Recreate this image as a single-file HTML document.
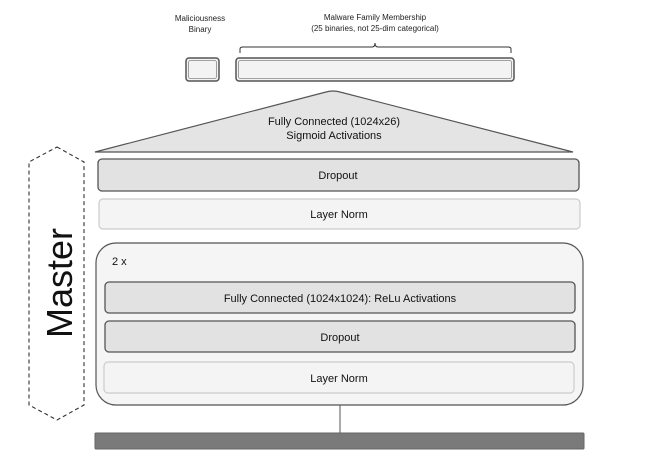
<!DOCTYPE html>
<html><head><meta charset="utf-8"><style>
html,body{margin:0;padding:0;background:#fff;}
body{width:657px;height:458px;overflow:hidden;}
</style></head><body>
<svg width="657" height="458" viewBox="0 0 657 458" xmlns="http://www.w3.org/2000/svg" font-family="Liberation Sans, sans-serif">
<text x="200" y="21" font-size="8" text-anchor="middle" fill="#222">Maliciousness</text>
<text x="200" y="32" font-size="8" text-anchor="middle" fill="#222">Binary</text>
<text x="375" y="20" font-size="8" text-anchor="middle" fill="#222">Malware Family Membership</text>
<text x="375" y="31" font-size="8" text-anchor="middle" fill="#222">(25 binaries, not 25-dim categorical)</text>
<path d="M240 53 V49 Q240 47 243 47 H372 Q375 47 375 43 Q375 47 378 47 H508 Q511 47 511 49 V53" fill="none" stroke="#333" stroke-width="1"/>
<rect x="186" y="58" width="33" height="23" rx="3" fill="#f3f3f3" stroke="#555" stroke-width="1.5"/>
<rect x="188.5" y="60.5" width="28" height="18" rx="2" fill="none" stroke="#888" stroke-width="0.8"/>
<rect x="236" y="58" width="278" height="23" rx="3" fill="#f3f3f3" stroke="#555" stroke-width="1.5"/>
<rect x="238.5" y="60.5" width="273" height="18" rx="2" fill="none" stroke="#888" stroke-width="0.8"/>
<path d="M95 152 L326 92 Q333 90 340 92 L573 152 Z" fill="#e4e4e4" stroke="#555" stroke-width="1.2"/>
<text x="334" y="125" font-size="11" text-anchor="middle" fill="#111">Fully Connected (1024x26)</text>
<text x="334" y="139" font-size="11" text-anchor="middle" fill="#111">Sigmoid Activations</text>
<rect x="98" y="159" width="481" height="32" rx="4" fill="#e2e2e2" stroke="#555" stroke-width="1.3"/>
<text x="338" y="179" font-size="11" text-anchor="middle" fill="#111">Dropout</text>
<rect x="99" y="199" width="481" height="30" rx="4" fill="#f4f4f4" stroke="#ccc" stroke-width="1.2"/>
<text x="339" y="218" font-size="11" text-anchor="middle" fill="#111">Layer Norm</text>
<path d="M57 147 L84 162 V405 L57 420 L29 405 V162 Z" fill="none" stroke="#333" stroke-width="1.1" stroke-dasharray="4,3"/>
<text x="0" y="0" font-size="36" text-anchor="middle" fill="#111" transform="translate(72 283) rotate(-90)">Master</text>
<rect x="96" y="243" width="487" height="162" rx="20" fill="#f5f5f5" stroke="#555" stroke-width="1.2"/>
<text x="112" y="265" font-size="11" fill="#111">2 x</text>
<rect x="105" y="282" width="470" height="31" rx="4" fill="#e2e2e2" stroke="#555" stroke-width="1.3"/>
<text x="340" y="302" font-size="11" text-anchor="middle" fill="#111">Fully Connected (1024x1024): ReLu Activations</text>
<rect x="105" y="321" width="470" height="31" rx="4" fill="#e2e2e2" stroke="#555" stroke-width="1.3"/>
<text x="340" y="341" font-size="11" text-anchor="middle" fill="#111">Dropout</text>
<rect x="104" y="362" width="470" height="31" rx="4" fill="#f4f4f4" stroke="#ccc" stroke-width="1.2"/>
<text x="339" y="382" font-size="11" text-anchor="middle" fill="#111">Layer Norm</text>
<line x1="340" y1="405" x2="340" y2="433" stroke="#555" stroke-width="1"/>
<rect x="95" y="433" width="489" height="16" rx="1" fill="#7a7a7a" stroke="#666" stroke-width="1"/>
</svg>
</body></html>
